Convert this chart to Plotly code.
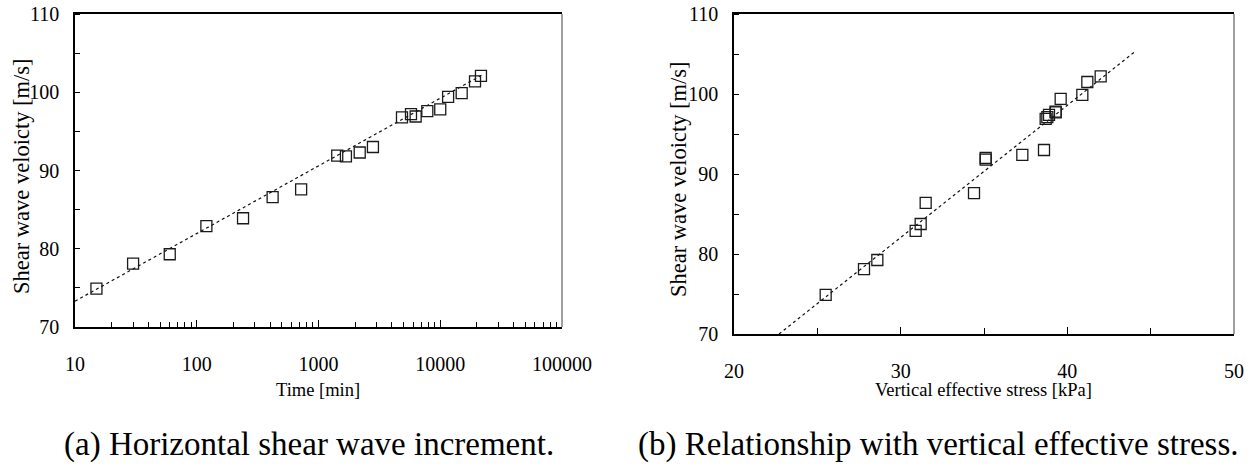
import plotly.graph_objects as go

# ---- data ----
time_min = [15, 30, 60, 120, 240, 420, 720, 1425, 1680, 2180, 2800,
            4850, 5750, 6280, 7830, 10000, 11600, 15000, 19300, 21600]
vs_time = [74.9, 78.1, 79.3, 82.9, 83.9, 86.6, 87.6, 91.9, 91.8, 92.3, 93.0,
           96.8, 97.2, 96.9, 97.6, 97.8, 99.4, 99.9, 101.4, 102.1]
time_fit_x = [10, 22000]
time_fit_y = [73.3, 102.2]

stress_kpa = [25.5, 27.8, 28.6, 30.9, 31.2, 31.5, 34.4, 35.1, 35.1, 37.3,
              38.6, 38.7, 38.8, 38.9, 39.3, 39.3, 39.6, 40.9, 41.2, 42.0]
vs_stress = [74.9, 78.1, 79.25, 82.9, 83.75, 86.4, 87.6, 91.8, 92.0, 92.4,
             93.0, 96.9, 97.1, 97.4, 97.7, 97.8, 99.4, 99.9, 101.5, 102.2]
stress_fit_x = [22.7, 44.0]
stress_fit_y = [70.0, 105.2]

y_ticks = [70, 80, 90, 100, 110]
stress_ticks = [20, 30, 40, 50]

W, H = 1254, 468
FONT = "Liberation Serif"


def px(x):
    return x / W


def py(y):
    return 1 - y / H


fig = go.Figure()

marker = dict(symbol="square-open", size=11, color="#1a1a1a",
              line=dict(width=1.3, color="#1a1a1a"))
fitline = dict(color="#111111", width=1.2, dash="dot")

fig.add_trace(go.Scatter(x=time_fit_x, y=time_fit_y, mode="lines",
                         line=fitline, xaxis="x", yaxis="y", showlegend=False))
fig.add_trace(go.Scatter(x=time_min, y=vs_time, mode="markers", marker=marker,
                         xaxis="x", yaxis="y", showlegend=False))
fig.add_trace(go.Scatter(x=stress_fit_x, y=stress_fit_y, mode="lines",
                         line=fitline, xaxis="x2", yaxis="y2", showlegend=False))
fig.add_trace(go.Scatter(x=stress_kpa, y=vs_stress, mode="markers", marker=marker,
                         xaxis="x2", yaxis="y2", showlegend=False))

tickfont = dict(family=FONT, size=20, color="black")
common_y = dict(range=[70, 110], tickvals=y_ticks, ticks="", showgrid=False,
                zeroline=False, showline=True, linecolor="black", linewidth=1.5,
                mirror=False, tickfont=tickfont, ticklabelstandoff=10,
                automargin=False,
                minor=dict(dtick=5, tick0=70, ticks="inside", ticklen=5,
                           tickcolor="black", tickwidth=1))

fig.update_layout(
    width=W, height=H, autosize=False, margin=dict(l=0, r=0, t=0, b=0, pad=0),
    paper_bgcolor="white", plot_bgcolor="white",
    font=dict(family=FONT, color="black"),
    xaxis=dict(type="log", range=[1, 5], domain=[px(75), px(562)], anchor="y",
               dtick=1, tickformat="d", ticks="inside", ticklen=7, tickwidth=1,
               tickcolor="black", showgrid=False, zeroline=False, showline=True,
               linecolor="black", linewidth=1.5, mirror=True, tickfont=tickfont,
               ticklabelstandoff=18, automargin=False,
               minor=dict(dtick="D1", ticks="inside", ticklen=5, tickwidth=1,
                          tickcolor="black", showgrid=False)),
    yaxis=dict(domain=[py(327), py(14)], anchor="x", **common_y),
    xaxis2=dict(range=[20, 50], domain=[px(734), px(1234)], anchor="y2",
                tickvals=stress_ticks, ticks="inside", ticklen=7, tickwidth=1,
                tickcolor="black", showgrid=False, zeroline=False, showline=True,
                linecolor="black", linewidth=1.5, mirror=True, tickfont=tickfont,
                ticklabelstandoff=18, automargin=False,
                minor=dict(dtick=5, tick0=20, ticks="inside", ticklen=6,
                           tickwidth=1, tickcolor="black", showgrid=False)),
    yaxis2=dict(domain=[py(334), py(14)], anchor="x2", **common_y),
)

# grey right spines
for xr, yr in (("x domain", "y domain"), ("x2 domain", "y2 domain")):
    fig.add_shape(type="line", xref=xr, yref=yr, x0=1, x1=1, y0=0, y1=1,
                  line=dict(color="#808080", width=1.5))

titlefont = dict(family=FONT, size=22.5, color="black")
xtitlefont = dict(family=FONT, size=18.5, color="black")
capfont = dict(family=FONT, size=33, color="black")
ann = [
    dict(text="Shear wave veloicty [m/s]", x=px(21), y=py(176), textangle=-90,
         font=titlefont),
    dict(text="Shear wave veloicty [m/s]", x=px(678), y=py(179), textangle=-90,
         font=titlefont),
    dict(text="Time [min]", x=px(318), y=py(390), font=xtitlefont),
    dict(text="Vertical effective stress [kPa]", x=px(983), y=py(390),
         font=xtitlefont),
    dict(text="(a) Horizontal shear wave increment.", x=px(62), y=py(444),
         xanchor="left", font=capfont),
    dict(text="(b) Relationship with vertical effective stress.", x=px(636),
         y=py(444), xanchor="left", font=capfont),
]
for a in ann:
    a.setdefault("xanchor", "center")
    fig.add_annotation(xref="paper", yref="paper", showarrow=False,
                       yanchor="middle", **a)

fig.write_html("out.html", config={"displayModeBar": False},
               post_script="document.body.style.margin='0';"
                           "document.body.style.overflow='hidden';")
